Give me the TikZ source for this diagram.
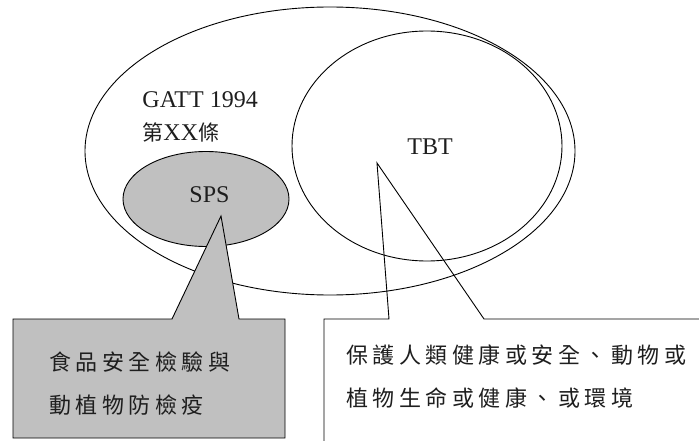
\documentclass[tikz,border=0pt]{standalone}
\usepackage{fontspec}
\setmainfont{Liberation Serif}
\newfontfamily\cjk{Noto Sans CJK TC}
\usetikzlibrary{shapes.geometric}
\definecolor{boxgray}{RGB}{192,192,192}
\definecolor{txt}{RGB}{30,30,30}
\newcommand\gk{\kern4.5pt}
\begin{document}
\begin{tikzpicture}[x=1pt,y=-1pt,line width=0.9pt,
  venn/.style={draw, ellipse, inner sep=0pt},
  lbl/.style={inner sep=0pt, anchor=base, text=txt, font=\fontsize{24}{28}\selectfont},
  cjktext/.style={inner sep=0pt, anchor=base west, text=txt, font=\fontsize{22}{26}\cjk},
  callout/.style={draw, line join=miter}]
\useasboundingbox (0,0) rectangle (699,441);
% Venn shapes
\node[venn, minimum width=490pt, minimum height=288pt] (gatt) at (330,151) {};
\node[venn, minimum width=270pt, minimum height=230pt] (tbt) at (427,146) {};
\node[venn, fill=boxgray, minimum width=166pt, minimum height=95pt] (sps) at (206,199) {};
% labels
\node[lbl, anchor=base west] (gattlbl) at (142,108) {GATT 1994};
\node[lbl, anchor=base west] (artlbl) at (142,141) {{\fontsize{21}{25}\cjk 第}XX{\fontsize{21}{25}\cjk 條}};
\node[lbl] (spslbl) at (209.5,203) {SPS};
\node[lbl] (tbtlbl) at (430,154) {TBT};
% callouts
\coordinate (spstip) at (221,216);
\coordinate (tbttip) at (377,163);
\draw[callout, fill=boxgray] (13,319) -- (172,319) -- (spstip) -- (239,319) -- (285,319) -- (285,438) -- (13,438) -- cycle;
\draw[callout] (324,446) -- (324,319) -- (389,319) -- (tbttip) -- (484,319) -- (705,319);
% callout texts
\node[cjktext] (g1) at (49,370.5) {食\gk{}品\gk{}安\gk{}全\gk{}檢\gk{}驗\gk{}與};
\node[cjktext] (g2) at (49,413.5) {動\gk{}植\gk{}物\gk{}防\gk{}檢\gk{}疫};
\node[cjktext] (w1) at (346,363) {保\gk{}護\gk{}人\gk{}類\gk{}健\gk{}康\gk{}或\gk{}安\gk{}全\gk{}、\gk{}動\gk{}物\gk{}或};
\node[cjktext] (w2) at (346,406) {植\gk{}物\gk{}生\gk{}命\gk{}或\gk{}健\gk{}康\gk{}、\gk{}或\gk{}環\gk{}境};
\end{tikzpicture}
\end{document}
